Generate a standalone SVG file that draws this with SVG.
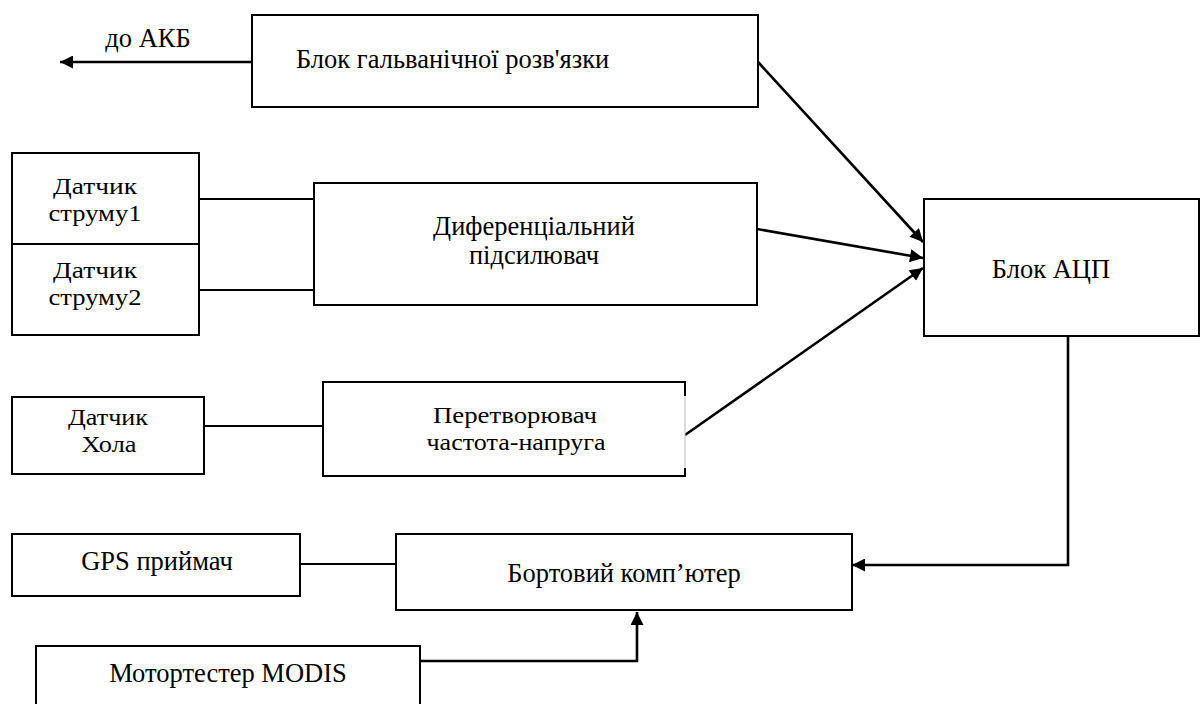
<svg xmlns="http://www.w3.org/2000/svg" width="1201" height="704" viewBox="0 0 1201 704">
<style>
  .box { fill: #fff; stroke: #000; stroke-width: 2; }
  .t { font-family: "Liberation Serif", "Times New Roman", serif; font-size: 26.5px; fill: #000; }
  .s { font-size: 24px; }
  .c { text-anchor: middle; }
  .ln { fill: none; stroke: #000; stroke-width: 2; }
  .ar { fill: none; stroke: #000; stroke-width: 2.6; marker-end: url(#ah); }
</style>
<defs>
  <marker id="ah" viewBox="0 0 10 10" refX="10" refY="5" markerWidth="17" markerHeight="13" markerUnits="userSpaceOnUse" orient="auto">
    <path d="M0,0 L10,5 L0,10 Z" fill="#000"/>
  </marker>
</defs>
<rect width="1201" height="704" fill="#fff"/>

<g id="connectors">
  <line class="ar" x1="252" y1="62" x2="60" y2="62"/>
  <line class="ar" x1="758" y1="62" x2="923" y2="242"/>
  <line class="ar" x1="757" y1="229" x2="923" y2="258"/>
  <line class="ar" x1="685" y1="435" x2="923" y2="268"/>
  <polyline class="ar" points="1068,336 1068,565 852,565"/>
  <polyline class="ar" points="420,661 637,661 637,612"/>
  <line class="ln" x1="199" y1="199" x2="314" y2="199"/>
  <line class="ln" x1="199" y1="290" x2="314" y2="290"/>
  <line class="ln" x1="204" y1="426" x2="323" y2="426"/>
  <line class="ln" x1="300" y1="564" x2="396" y2="564"/>
</g>

<text class="t c" x="148" y="47">до АКБ</text>

<g id="galv">
  <rect class="box" x="252" y="15" width="506" height="92"/>
  <text class="t" x="296" y="68">Блок гальванічної розв'язки</text>
</g>

<g id="sensor1">
  <rect class="box" x="12" y="153" width="187" height="91"/>
  <text class="t s c" x="95" y="194" textLength="84" lengthAdjust="spacingAndGlyphs">Датчик</text>
  <text class="t s c" x="95" y="221" textLength="93" lengthAdjust="spacingAndGlyphs">струму1</text>
</g>

<g id="sensor2">
  <rect class="box" x="12" y="244" width="187" height="91"/>
  <text class="t s c" x="95" y="278" textLength="84" lengthAdjust="spacingAndGlyphs">Датчик</text>
  <text class="t s c" x="95" y="305" textLength="93" lengthAdjust="spacingAndGlyphs">струму2</text>
</g>

<g id="diffamp">
  <rect class="box" x="314" y="183" width="443" height="122"/>
  <text class="t c" x="534" y="235">Диференціальний</text>
  <text class="t c" x="534" y="264">підсилювач</text>
</g>

<g id="adc">
  <rect class="box" x="924" y="199" width="275" height="137"/>
  <text class="t c" x="1051" y="278">Блок АЦП</text>
</g>

<g id="hall">
  <rect class="box" x="12" y="397" width="192" height="77"/>
  <text class="t s c" x="108" y="425" textLength="80" lengthAdjust="spacingAndGlyphs">Датчик</text>
  <text class="t s c" x="109" y="452" textLength="55" lengthAdjust="spacingAndGlyphs">Хола</text>
</g>

<g id="converter">
  <rect x="323" y="382" width="362" height="94" fill="#fff"/>
  <path d="M685,396 L685,382 L323,382 L323,476 L685,476 L685,468" fill="none" stroke="#000" stroke-width="2"/>
  <line x1="685" y1="396" x2="685" y2="468" stroke="#bbb" stroke-width="1"/>
  <text class="t s c" x="515" y="423" textLength="164" lengthAdjust="spacingAndGlyphs">Перетворювач</text>
  <text class="t s c" x="516" y="450" textLength="179" lengthAdjust="spacingAndGlyphs">частота-напруга</text>
</g>

<g id="gps">
  <rect class="box" x="12" y="534" width="288" height="62"/>
  <text class="t c" x="157" y="570">GPS приймач</text>
</g>

<g id="computer">
  <rect class="box" x="396" y="534" width="456" height="76"/>
  <text class="t c" x="624" y="582">Бортовий комп’ютер</text>
</g>

<g id="modis">
  <rect class="box" x="36" y="646" width="384" height="70"/>
  <text class="t c" x="228" y="682">Мотортестер MODIS</text>
</g>
</svg>
